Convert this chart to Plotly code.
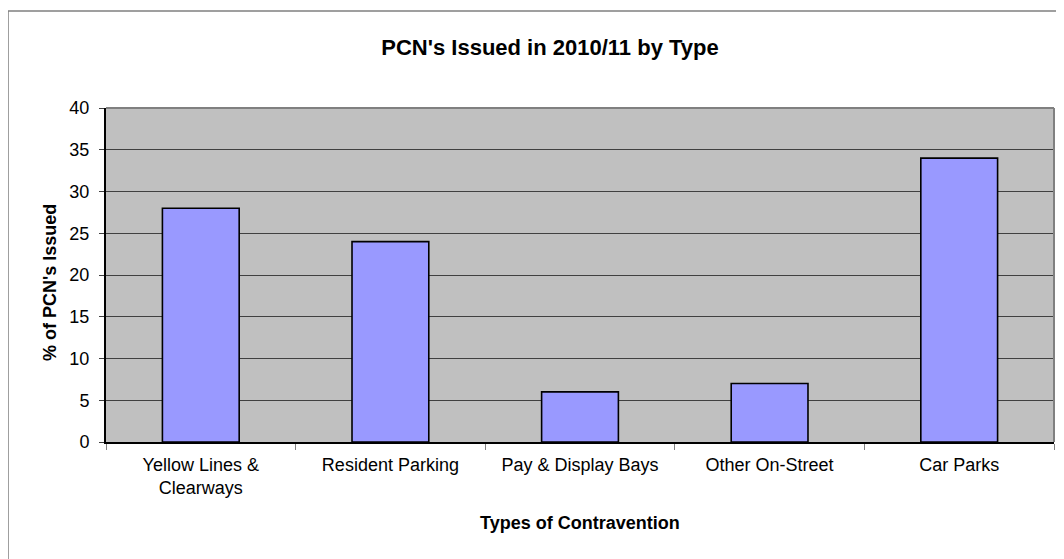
import plotly.graph_objects as go

categories = ["Yellow Lines &<br>Clearways", "Resident Parking", "Pay & Display Bays",
              "Other On-Street", "Car Parks"]
values = [28, 24, 6, 7, 34]
y_ticks = [0, 5, 10, 15, 20, 25, 30, 35, 40]

OFF = 8  # page body margin
W, H = 1064 - OFF, 559 - OFF
# target screen positions of plot area
L, R, T, B = 106 - OFF, 1054 - OFF, 108 - OFF, 442 - OFF
pw, ph = R - L, B - T

def px(x):  # screen x -> paper
    return (x - OFF - L) / pw

def py(y):  # screen y -> paper
    return (B - (y - OFF)) / ph

FONT = "Liberation Sans, Arial, sans-serif"

fig = go.Figure()
fig.add_trace(go.Bar(
    x=categories, y=values,
    marker=dict(color="#9999FF", line=dict(color="black", width=1.6)),
    width=0.405,
))

fig.update_layout(
    width=W, height=H,
    margin=dict(l=L, r=W - R, t=T, b=H - B),
    paper_bgcolor="white",
    plot_bgcolor="#C0C0C0",
    showlegend=False,
    font=dict(family=FONT, size=18, color="black"),
    title=dict(text="<b>PCN's Issued in 2010/11 by Type</b>",
               font=dict(family=FONT, size=22, color="black"),
               x=px(550), xref="paper", xanchor="center",
               y=1 - (47 - OFF) / H, yref="container", yanchor="middle"),
)

fig.update_xaxes(
    showline=True, linecolor="black", linewidth=2,
    ticks="outside", tickson="boundaries", ticklen=6, tickcolor="#808080", tickwidth=1,
    showgrid=False,
    tickfont=dict(family=FONT, size=18, color="black"),
    ticklabelstandoff=5,
)
fig.update_yaxes(
    range=[0, 40], tickvals=y_ticks,
    showline=True, linecolor="black", linewidth=2,
    ticks="outside", ticklen=5, tickcolor="#404040", tickwidth=1,
    showgrid=True, gridcolor="#404040", gridwidth=1,
    zeroline=False,
    tickfont=dict(family=FONT, size=18, color="black"),
    ticklabelstandoff=6,
)

shapes = [
    # outer chart border (right/bottom clipped)
    dict(type="rect", xref="paper", yref="paper",
         x0=px(8), x1=px(1075), y0=py(575), y1=py(11),
         line=dict(color="#808080", width=1.5), fillcolor="rgba(0,0,0,0)", layer="below"),
    # plot area top and right border
    dict(type="line", xref="paper", yref="paper", x0=0, x1=1, y0=1, y1=1,
         line=dict(color="#808080", width=2)),
    dict(type="line", xref="paper", yref="paper", x0=1, x1=1, y0=0, y1=1,
         line=dict(color="#808080", width=2)),
]
fig.update_layout(shapes=shapes)

fig.add_annotation(text="<b>Types of Contravention</b>", xref="paper", yref="paper",
                   x=px(580), y=py(523), xanchor="center", yanchor="middle",
                   showarrow=False, font=dict(family=FONT, size=18, color="black"))
fig.add_annotation(text="<b>% of PCN's Issued</b>", xref="paper", yref="paper",
                   x=px(50), y=py(283), xanchor="center", yanchor="middle",
                   textangle=-90, showarrow=False,
                   font=dict(family=FONT, size=18, color="black"))

fig.write_html("out.html")
